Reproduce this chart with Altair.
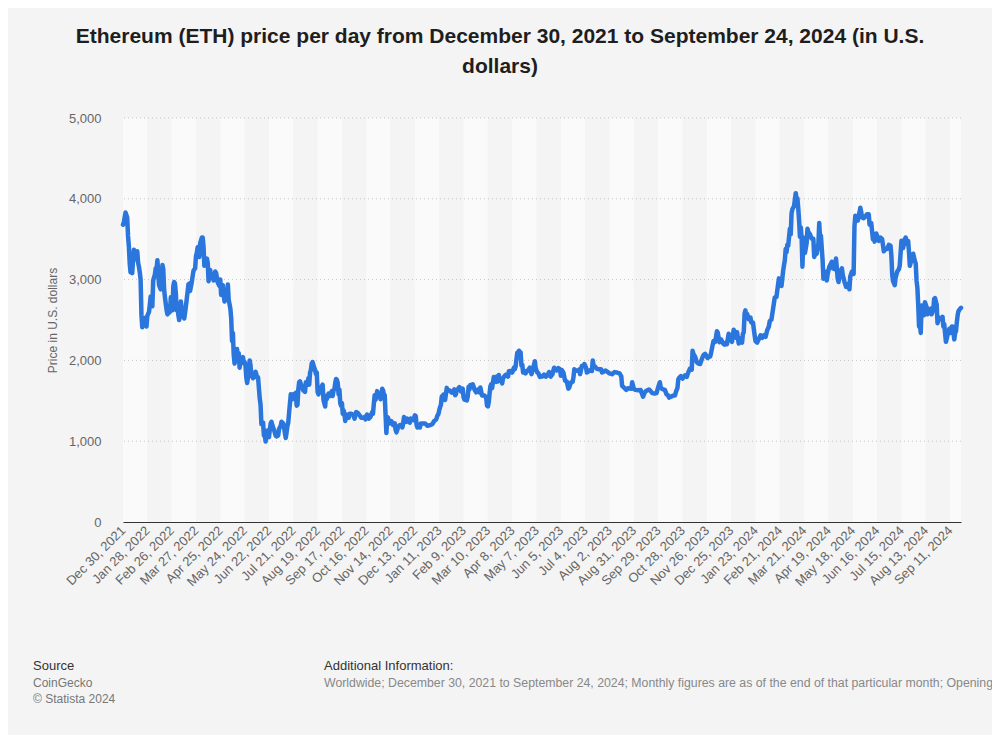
import json
from datetime import datetime

import altair as alt
import pandas as pd

FONT = "Liberation Sans"

# ---- data ----
START_DATE = "Dec 30, 2021"   # day 0
END_DAY = 999                  # Sep 24, 2024

DAYS = [
    0, 1, 2, 3, 5, 6, 7, 8, 9, 10, 11, 12, 13, 14, 15, 17, 18, 19, 20, 21, 22, 23, 24, 25, 26, 28, 29,
    31, 32, 33, 34, 35, 36, 38, 39, 40, 41, 42, 43, 45, 46, 47, 48, 49, 50, 52, 53, 54, 55, 56, 57, 58,
    59, 60, 61, 62, 63, 64, 65, 66, 67, 68, 69, 70, 71, 73, 74, 76, 78, 79, 80, 82, 84, 86, 87, 88, 89,
    91, 92, 94, 95, 96, 97, 98, 100, 101, 102, 104, 105, 107, 108, 110, 111, 113, 115, 116, 117, 118,
    119, 120, 121, 122, 123, 124, 125, 126, 128, 129, 130, 131, 132, 133, 134, 135, 136, 137, 138, 139,
    140, 141, 143, 144, 145, 146, 147, 148, 149, 151, 152, 153, 155, 157, 158, 160, 161, 162, 163, 164,
    165, 167, 168, 169, 170, 171, 172, 174, 175, 176, 177, 178, 180, 182, 183, 185, 186, 188, 189, 191,
    192, 193, 194, 195, 196, 197, 198, 200, 201, 202, 203, 205, 206, 207, 208, 209, 210, 211, 213, 215,
    217, 218, 220, 221, 222, 223, 224, 225, 226, 227, 229, 230, 231, 232, 233, 234, 236, 238, 239, 241,
    242, 243, 245, 247, 249, 250, 251, 252, 253, 254, 255, 256, 257, 258, 259, 260, 261, 262, 263, 264,
    265, 266, 268, 269, 270, 272, 274, 275, 276, 277, 278, 280, 282, 284, 286, 288, 289, 290, 291, 293,
    295, 297, 298, 299, 300, 301, 302, 303, 304, 305, 306, 307, 308, 309, 310, 311, 312, 313, 314, 315,
    316, 317, 318, 320, 322, 324, 325, 326, 327, 328, 330, 332, 333, 334, 335, 336, 338, 339, 340, 342,
    343, 346, 348, 349, 350, 351, 353, 354, 355, 360, 363, 366,
    367, 369, 371, 373, 374, 375, 376, 377, 378, 379, 380, 382, 383, 384, 386, 387, 389, 391, 392, 395,
    396, 397, 398, 399, 401, 403, 405, 406, 407, 410, 411, 412, 413, 414, 416, 417, 419, 421, 423, 425,
    426, 428, 431, 433, 434, 435, 436, 437, 438, 439, 440, 442, 443, 445, 446, 447, 448, 449, 451, 452,
    453, 454, 456, 457, 459, 460, 462, 464, 466, 467, 468, 469, 470, 471, 472, 473, 474, 475, 476, 477,
    478, 480, 481, 482, 484, 485, 486, 487, 489, 491, 492, 494, 495, 497, 498, 500, 502, 504, 506, 508,
    510, 512, 514, 515, 517, 519, 521, 522, 523, 525, 527, 529, 531, 532, 534, 536, 537, 538, 540, 542,
    544, 545, 547, 549, 550, 552, 553, 555, 557, 559, 560, 561, 563, 565, 567, 570, 571, 573, 575, 578,
    580, 583, 586, 589, 592, 593, 594, 595, 597, 600, 602, 606, 607, 609, 611, 614, 617, 620, 622, 624,
    627, 629, 631, 634, 636, 638, 640, 641, 643, 646, 648, 650, 651, 654, 656, 658, 659, 661, 662, 663,
    665, 667, 670, 672, 674, 676, 678, 679, 680, 682, 684, 686, 688, 690, 692, 694, 697, 700, 701, 703,
    704, 706, 708, 709, 711, 713, 715, 717, 718, 720, 722, 724, 726, 728, 729, 731,
    732, 734, 736, 738, 739, 740, 741, 742, 743, 744, 746, 748, 749, 751, 753, 754, 756, 758, 760, 762,
    764, 766, 768, 770, 771, 773, 775, 777, 779, 781, 782, 784, 785, 787, 788, 789, 790, 791, 792, 793,
    795, 796, 797, 798, 800, 802, 803, 804, 805, 806, 807, 808, 809, 810, 811, 812, 813, 815, 816, 817,
    819, 821, 823, 824, 825, 827, 829, 830, 831, 832, 834, 835, 836, 837, 838, 839, 840, 842, 844, 845,
    846, 848, 850, 852, 853, 855, 857, 858, 860, 862, 864, 865, 866, 867, 869, 871, 872, 873, 875, 876,
    878, 879, 880, 881, 883, 885, 887, 889, 890, 892, 894, 895, 896, 898, 900, 901, 903, 905, 907, 909,
    911, 913, 915, 916, 917, 918, 920, 921, 923, 925, 926, 928, 929, 930, 932, 933, 935, 936, 937, 938,
    940, 942, 944, 945, 946, 947, 948, 949, 950, 951, 952, 953, 955, 956, 958, 959, 961, 963, 964, 966,
    967, 968, 970, 971, 973, 975, 977, 978, 979, 981, 982, 984, 985, 986, 988, 989, 991, 992, 993, 994,
    995, 996, 998, 999,
]

PRICES = [
    3680, 3710, 3770, 3830, 3770, 3540, 3410, 3200, 3090, 3150, 3080, 3240, 3370, 3250, 3310, 3350, 3210, 3160, 3090, 3000, 2560, 2410, 2530, 2440, 2460, 2420, 2550,
    2600, 2690, 2790, 2690, 2670, 2990, 3060, 3140, 3120, 3240, 3080, 2930, 2880, 2930, 3180, 3130, 2880, 2780, 2620, 2570, 2640, 2590, 2600, 2780, 2770,
    2620, 2920, 2970, 2950, 2830, 2620, 2660, 2560, 2500, 2570, 2730, 2610, 2560, 2520, 2590, 2760, 2940, 2950, 2860, 2970, 3110, 3140, 3290, 3330, 3400,
    3280, 3450, 3520, 3520, 3410, 3170, 3230, 3260, 3210, 2980, 3120, 3020, 3060, 2990, 3100, 3080, 2960, 2920, 3000, 2810, 2890,
    2930, 2820, 2730, 2830, 2860, 2780, 2940, 2750, 2640, 2520, 2240, 2340, 2070, 1960, 2010, 2060, 2140, 2020, 2090, 1910,
    2020, 1960, 2040, 1970, 1980, 1940, 1790, 1720, 1790, 2000, 1940, 1820, 1780, 1800, 1860, 1790, 1790, 1660, 1530, 1450,
    1210, 1230, 1070, 1090, 995, 1120, 1130, 1050, 1140, 1220, 1240, 1200, 1140, 1070, 1060, 1070, 1150, 1190, 1240, 1220,
    1170, 1100, 1040, 1110, 1190, 1230, 1350, 1580, 1540, 1520, 1580, 1550, 1600, 1440, 1450, 1640, 1730, 1740, 1680, 1630,
    1610, 1730, 1700, 1780, 1700, 1850, 1880, 1960, 1980, 1940, 1880, 1830, 1850, 1610, 1580, 1620, 1660, 1700, 1510, 1430,
    1560, 1520, 1590, 1560, 1620, 1560, 1630, 1640, 1720, 1770, 1760, 1720, 1580, 1640, 1470, 1440, 1470, 1340, 1380, 1330,
    1250, 1330, 1320, 1290, 1340, 1340, 1330, 1310, 1280, 1320, 1360, 1350, 1320, 1290, 1290, 1300, 1270, 1310, 1330, 1280,
    1300, 1360, 1340, 1460, 1570, 1510, 1550, 1620, 1590, 1570, 1580, 1520, 1530, 1650, 1630, 1580, 1570, 1330, 1100, 1300,
    1290, 1250, 1220, 1250, 1200, 1220, 1140, 1110, 1140, 1180, 1200, 1200, 1170, 1220, 1300, 1280, 1240, 1280, 1260, 1230,
    1280, 1260, 1320, 1310, 1200, 1170, 1190, 1170, 1220, 1220, 1190, 1200,
    1200, 1215, 1250, 1265, 1290, 1320, 1335, 1385, 1420, 1450, 1550, 1575, 1565, 1510, 1660, 1630, 1630, 1610, 1600, 1640,
    1570, 1585, 1640, 1640, 1670, 1615, 1650, 1545, 1515, 1505, 1555, 1675, 1640, 1695, 1680, 1705, 1640, 1605, 1640, 1605,
    1665, 1565, 1565, 1535, 1440, 1430, 1480, 1590, 1680, 1705, 1655, 1795, 1760, 1735, 1805, 1740, 1820, 1750, 1775, 1715,
    1775, 1795, 1820, 1825, 1800, 1865, 1870, 1850, 1910, 1890, 1920, 2010, 2095, 2090, 2120, 2075, 2100, 1935, 1945, 1850,
    1875, 1840, 1865, 1865, 1895, 1910, 1870, 1830, 1905, 1990, 1900, 1850, 1845, 1795, 1800, 1800, 1825, 1800, 1815, 1855,
    1800, 1830, 1910, 1895, 1875, 1905, 1890, 1810, 1880, 1850, 1750, 1740, 1650, 1665, 1725, 1735, 1790, 1890, 1875, 1870,
    1890, 1830, 1930, 1935, 1955, 1910, 1850, 1865, 1880, 1870, 2000, 1935, 1920, 1895, 1890, 1890, 1850, 1860, 1875, 1855,
    1840, 1830, 1855, 1850, 1840, 1820, 1805, 1685, 1665, 1635, 1655, 1650, 1730, 1645, 1635, 1630, 1635, 1550, 1605, 1625,
    1640, 1620, 1595, 1590, 1595, 1665, 1730, 1665, 1645, 1635, 1580, 1565, 1540, 1555, 1565, 1565, 1605, 1660, 1765, 1785,
    1805, 1775, 1815, 1795, 1855, 1900, 1885, 2120, 2080, 2045, 1980, 1960, 1955, 2015, 2065, 2080, 2030, 2050, 2090, 2195,
    2240, 2230, 2360, 2345, 2225, 2260, 2215, 2195, 2215, 2200, 2330, 2265, 2230, 2380, 2345, 2280,
    2350, 2210, 2270, 2220, 2330, 2345, 2580, 2620, 2525, 2575, 2510, 2530, 2470, 2470, 2310, 2240, 2220, 2265, 2310, 2280,
    2310, 2290, 2375, 2420, 2485, 2505, 2640, 2780, 2785, 2945, 3015, 2970, 2920, 3110, 3180, 3240, 3380, 3340, 3430, 3420,
    3630, 3560, 3820, 3870, 3910, 4070, 3990, 4005, 3880, 3730, 3530, 3645, 3520, 3160, 3520, 3500, 3330, 3450, 3630, 3590,
    3560, 3505, 3505, 3280, 3310, 3320, 3450, 3700, 3510, 3545, 3240, 3010, 3100, 3100, 3080, 2990, 3065, 3160, 3200, 3220,
    3140, 3130, 3260, 3010, 2970, 3100, 3140, 3060, 2975, 2910, 2930, 2950, 2880, 3040, 3100, 3070, 3660, 3790, 3780, 3730,
    3830, 3890, 3840, 3770, 3760, 3780, 3810, 3810, 3680, 3700, 3500, 3560, 3470, 3570, 3510, 3480, 3520, 3500, 3350, 3380,
    3380, 3430, 3420, 3300, 3060, 2980, 2930, 3020, 3100, 3130, 3175, 3480, 3440, 3390, 3500, 3520, 3440, 3480, 3340, 3170,
    3250, 3320, 3230, 3200, 2990, 2900, 2690, 2420, 2460, 2340, 2680, 2600, 2560, 2720, 2660, 2570, 2610, 2640, 2570, 2630,
    2760, 2770, 2690, 2460, 2530, 2510, 2540, 2420, 2450, 2230, 2270, 2360, 2390, 2340, 2420, 2420, 2260, 2340, 2360, 2470,
    2560, 2610, 2640, 2650,
]

TICK_LABELS = [
    "Dec 30, 2021", "Jan 28, 2022", "Feb 26, 2022", "Mar 27, 2022", "Apr 25, 2022", "May 24, 2022",
    "Jun 22, 2022", "Jul 21, 2022", "Aug 19, 2022", "Sep 17, 2022", "Oct 16, 2022", "Nov 14, 2022",
    "Dec 13, 2022", "Jan 11, 2023", "Feb 9, 2023", "Mar 10, 2023", "Apr 8, 2023", "May 7, 2023",
    "Jun 5, 2023", "Jul 4, 2023", "Aug 2, 2023", "Aug 31, 2023", "Sep 29, 2023", "Oct 28, 2023",
    "Nov 26, 2023", "Dec 25, 2023", "Jan 23, 2024", "Feb 21, 2024", "Mar 21, 2024", "Apr 19, 2024",
    "May 18, 2024", "Jun 16, 2024", "Jul 15, 2024", "Aug 13, 2024", "Sep 11, 2024",
]

Y_TICKS = [0, 1000, 2000, 3000, 4000, 5000]

TITLE_LINES = [
    "Ethereum (ETH) price per day from December 30, 2021 to September 24, 2024 (in U.S.",
    "dollars)",
]
Y_TITLE = "Price in U.S. dollars"
SOURCE_LINES = ["Source", "CoinGecko", "\u00a9 Statista 2024"]
INFO_LINES = [
    "Additional Information:",
    "Worldwide; December 30, 2021 to September 24, 2024; Monthly figures are as of the end of that particular month; Opening",
]

# ---- derived tables ----
start = datetime.strptime(START_DATE, "%b %d, %Y")
tick_days = [(datetime.strptime(t, "%b %d, %Y") - start).days for t in TICK_LABELS]

line_df = pd.DataFrame({"day": DAYS, "price": PRICES})
band_df = pd.DataFrame({
    "start": tick_days,
    "end": tick_days[1:] + [END_DAY],
    "parity": [i % 2 for i in range(len(tick_days))],
})
grid_df = pd.DataFrame({"v": Y_TICKS[1:]})

W, H = 838, 404

x_scale = alt.Scale(domain=[0, END_DAY], nice=False, zero=False)
y_scale = alt.Scale(domain=[0, 5000], nice=False)

label_expr = f"{json.dumps(TICK_LABELS)}[indexof({json.dumps(tick_days)}, datum.value)]"

x_axis = alt.Axis(
    values=tick_days, labelExpr=label_expr, labelAngle=-45, labelAlign="right",
    labelBaseline="middle", labelFontSize=13, labelColor="#666666", labelFont=FONT,
    ticks=False, domain=True, domainColor="#333333", domainWidth=1, grid=False,
    title=None, labelPadding=6, labelOverlap=False, labelBound=False, labelFlush=False,
    zindex=1,
)
y_axis = alt.Axis(
    values=Y_TICKS, format=",d", labelFontSize=13, labelColor="#666666", labelFont=FONT,
    ticks=False, domain=False, grid=False, labelPadding=22,
    title=Y_TITLE, titleFontSize=12, titleColor="#666666", titleFontWeight="normal",
    titleFont=FONT, titlePadding=9,
)

bands = alt.Chart(band_df).mark_rect().encode(
    x=alt.X("start:Q", scale=x_scale, axis=x_axis),
    x2="end:Q",
    color=alt.Color("parity:N", scale=alt.Scale(domain=[0, 1], range=["#fafafa", "#f4f4f4"]), legend=None),
)

grid = alt.Chart(grid_df).mark_rule(color="#c4c4c4", strokeDash=[1, 3], strokeWidth=1).encode(
    y=alt.Y("v:Q", scale=y_scale, axis=y_axis),
)

line = alt.Chart(line_df).mark_line(
    color="#2a76dd", strokeWidth=4.5, strokeCap="round", strokeJoin="round"
).encode(
    x=alt.X("day:Q", scale=x_scale, axis=x_axis),
    y=alt.Y("price:Q", scale=y_scale, axis=y_axis),
)


def txt(s, x, y, size, color, weight="normal", align="left"):
    return alt.Chart(pd.DataFrame({"t": [s]})).mark_text(
        x=x, y=y, fontSize=size, color=color, fontWeight=weight, align=align,
        baseline="alphabetic", font=FONT,
    ).encode(text="t:N")


texts = [
    txt(TITLE_LINES[0], 377, -75, 21, "#1e1e1e", "bold", "center"),
    txt(TITLE_LINES[1], 377, -45, 21, "#1e1e1e", "bold", "center"),
    txt(SOURCE_LINES[0], -90, 552, 13, "#333333"),
    txt(SOURCE_LINES[1], -90, 569, 12, "#777777"),
    txt(SOURCE_LINES[2], -90, 585, 12, "#777777"),
    txt(INFO_LINES[0], 201, 552, 13, "#333333"),
    txt(INFO_LINES[1], 201, 569, 12.3, "#888888"),
]

chart = alt.layer(bands, grid, line, *texts).properties(
    width=W, height=H,
    padding={"left": 115, "top": 110, "right": 31, "bottom": 213},
    autosize=alt.AutoSizeParams(type="none"),
    background="#f4f4f4",
).configure_view(stroke=None)

chart.save("out.html", embed_options={"renderer": "svg", "actions": False})
